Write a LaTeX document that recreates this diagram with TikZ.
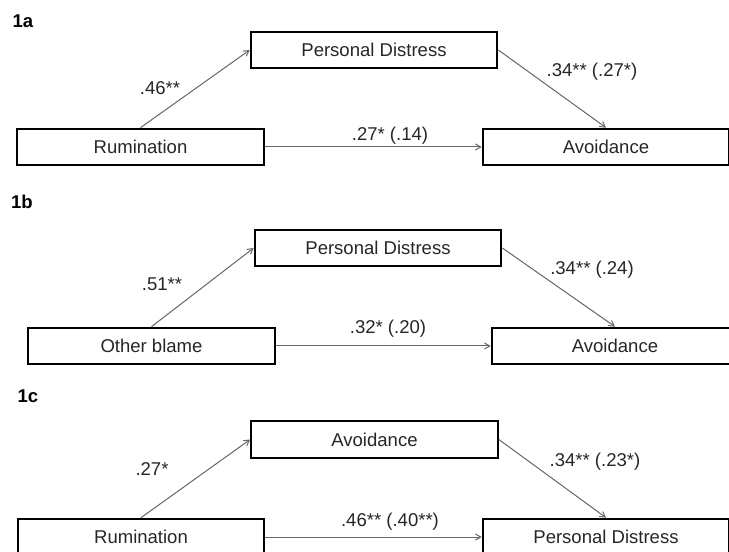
\documentclass[tikz,border=0pt]{standalone}
\usepackage{fontspec}
\setmainfont{Liberation Sans}
\usetikzlibrary{arrows}

\begin{document}
\begin{tikzpicture}[x=0.75pt, y=-0.75pt,
  box/.style={rectangle, draw=black, line width=1.5pt, inner sep=0pt,
    minimum width=185pt, minimum height=27.5pt, text=black!85,
    font=\fontsize{13.9pt}{16pt}\selectfont},
  lbl/.style={inner sep=0pt, text=black!85, font=\fontsize{13.9pt}{16pt}\selectfont},
  panel/.style={inner sep=0pt, font=\fontsize{13.9pt}{16pt}\selectfont\bfseries},
  path/.style={->, >=angle 60, draw=black!60, line width=0.75pt}]
\useasboundingbox (0,0) rectangle (729,552);

% 1a
\node[panel] (p1) at (23,21) {1a};
\node[box] (pd1) at (374,50) {Personal Distress};
\node[box] (ru1) at (140.5,147) {Rumination};
\node[box] (av1) at (606,147) {Avoidance};
\draw[path] (ru1.north)--(pd1.west);
\draw[path] (pd1.east)--(av1.north);
\draw[path] (ru1.east)--(av1.west);
\node[lbl] (a1) at (160,88) {.46**};
\node[lbl] (b1) at (592,72) {.34** (.27*)};
\node[lbl] (c1) at (390,136) {.27* (.14)};

% 1b
\node[panel] (p2) at (22,202) {1b};
\node[box] (pd2) at (378,248) {Personal Distress};
\node[box] (ob2) at (151.5,346) {Other blame};
\node[box] (av2) at (615,346) {Avoidance};
\draw[path] (ob2.north)--(pd2.west);
\draw[path] (pd2.east)--(av2.north);
\draw[path] (ob2.east)--(av2.west);
\node[lbl] (a2) at (162,284) {.51**};
\node[lbl] (b2) at (592,270) {.34** (.24)};
\node[lbl] (c2) at (388,329) {.32* (.20)};

% 1c
\node[panel] (p3) at (28,396) {1c};
\node[box] (av3) at (374.5,439.5) {Avoidance};
\node[box] (ru3) at (141,537) {Rumination};
\node[box] (pd3) at (606,537) {Personal Distress};
\draw[path] (ru3.north)--(av3.west);
\draw[path] (av3.east)--(pd3.north);
\draw[path] (ru3.east)--(pd3.west);
\node[lbl] (a3) at (152,469) {.27*};
\node[lbl] (b3) at (595,462) {.34** (.23*)};
\node[lbl] (c3) at (390,522) {.46** (.40**)};
\end{tikzpicture}
\end{document}
